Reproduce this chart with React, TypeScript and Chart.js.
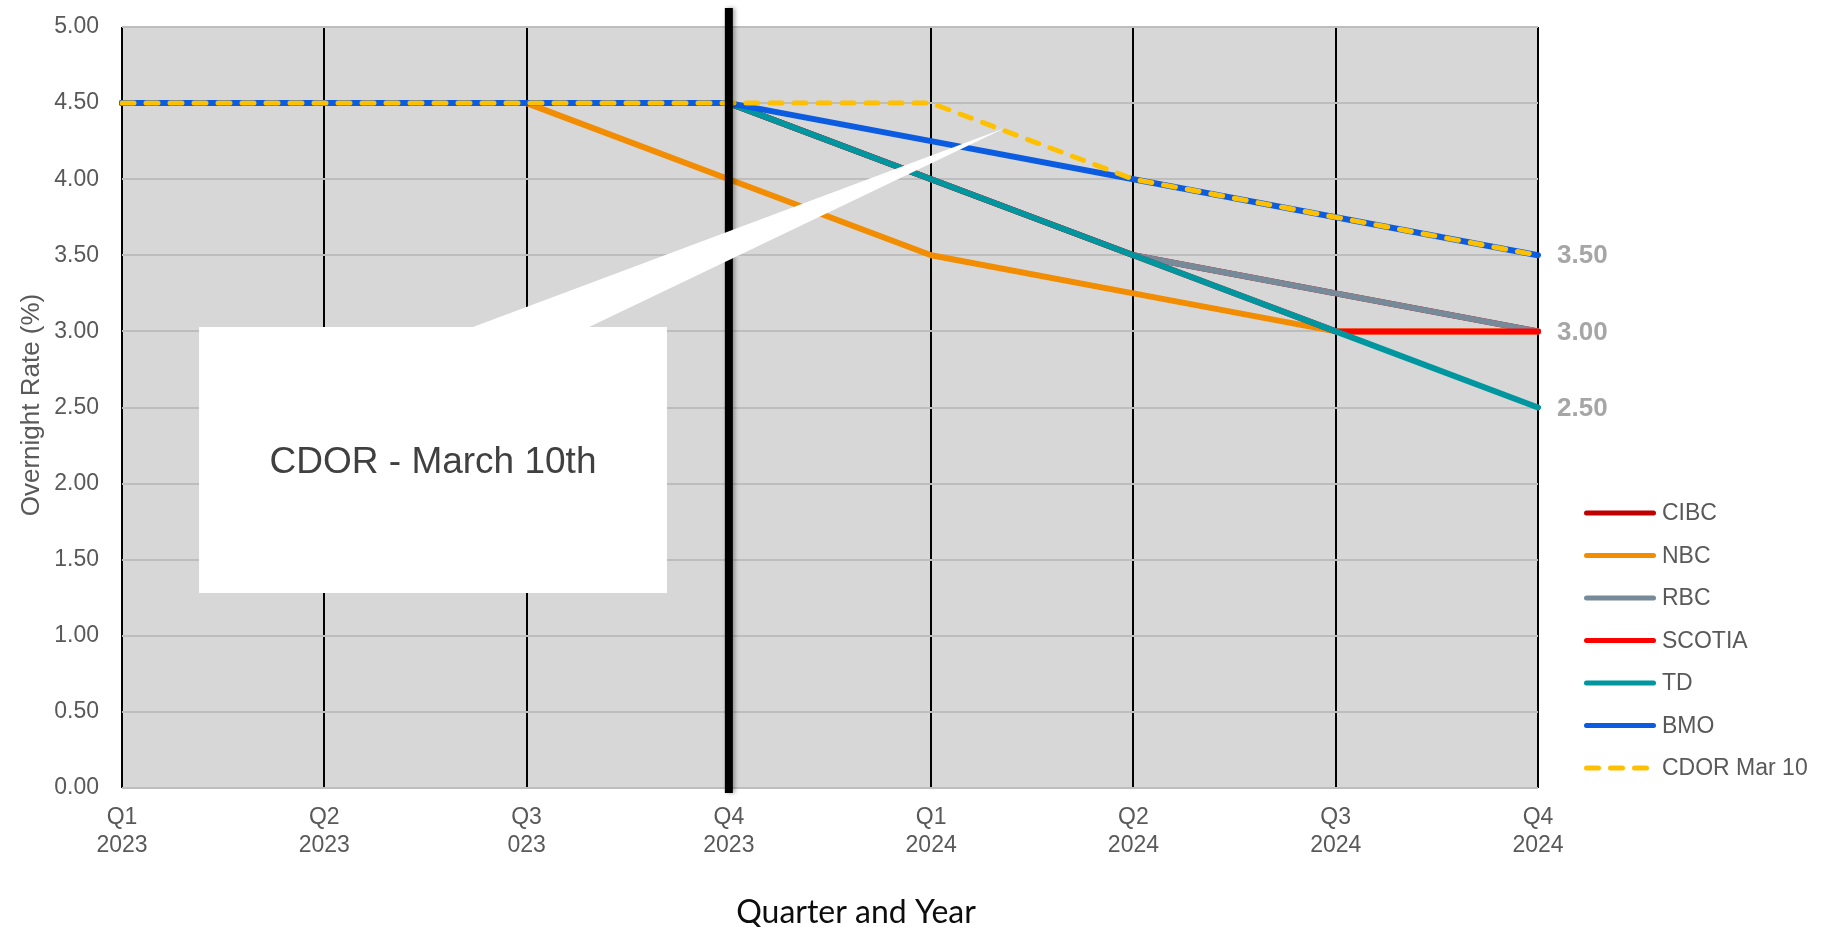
import { useEffect, useRef } from 'react';
import { Chart, registerables } from 'chart.js';

Chart.register(...registerables);

// Quarter labels (two lines each)
const quarters: string[][] = [
  ['Q1', '2023'],
  ['Q2', '2023'],
  ['Q3', '023'],
  ['Q4', '2023'],
  ['Q1', '2024'],
  ['Q2', '2024'],
  ['Q3', '2024'],
  ['Q4', '2024'],
];

// Overnight rate forecasts (%) by bank
const cibc = [4.5, 4.5, 4.5, 4.5, 4.0, 3.5, 3.25, 3.0];
const nbc = [4.5, 4.5, 4.5, 4.0, 3.5, 3.25, 3.0, 3.0];
const rbc = [4.5, 4.5, 4.5, 4.5, 4.0, 3.5, 3.25, 3.0];
const scotia = [4.5, 4.5, 4.5, 4.5, 4.0, 3.5, 3.0, 3.0];
const td = [4.5, 4.5, 4.5, 4.5, 4.0, 3.5, 3.0, 2.5];
const bmo = [4.5, 4.5, 4.5, 4.5, 4.25, 4.0, 3.75, 3.5];
const cdorMar10 = [4.5, 4.5, 4.5, 4.5, 4.5, 4.0, 3.75, 3.5];

const seriesNames = ['CIBC', 'NBC', 'RBC', 'SCOTIA', 'TD', 'BMO', 'CDOR Mar 10'];
const seriesValues = [cibc, nbc, rbc, scotia, td, bmo, cdorMar10];
const seriesColors = ['#C00000', '#F28C00', '#778A99', '#FF0000', '#00969F', '#0B5CE1', '#FFC000'];
const dashedSeries = ['CDOR Mar 10'];

// Series whose final value is printed to the right of the plot
const endLabelSeries = ['BMO', 'SCOTIA', 'TD'];

const yTickValues = [0, 0.5, 1, 1.5, 2, 2.5, 3, 3.5, 4, 4.5, 5];

// Marker for the current quarter and the callout note
const markerIndex = 3;
const calloutText = 'CDOR - March 10th';
const yTitle = 'Overnight Rate (%)';
const xTitle = 'Quarter and Year';

const FONT = '"Liberation Sans", Arial, Helvetica, sans-serif';
const TEXT_GREY = '#595959';

const decorPlugin = {
  id: 'decor',
  beforeDraw(chart: any) {
    const { ctx, chartArea: a } = chart;
    ctx.save();
    ctx.fillStyle = '#D7D7D7';
    ctx.fillRect(a.left, a.top, a.right - a.left, a.bottom - a.top);
    ctx.restore();
  },
  afterDatasetsDraw(chart: any) {
    const { ctx, chartArea: a, scales } = chart;
    const x = scales.x;
    const y = scales.y;

    // thick marker bar
    const bx = x.getPixelForValue(markerIndex);
    ctx.save();
    ctx.shadowColor = 'rgba(0,0,0,0.35)';
    ctx.shadowBlur = 4;
    ctx.shadowOffsetX = 2;
    ctx.fillStyle = '#000';
    ctx.fillRect(bx - 4, a.top - 19, 8, a.bottom - a.top + 24);
    ctx.restore();

    // callout box with pointer
    const bl = x.getPixelForValue(0.381);
    const br = x.getPixelForValue(2.694);
    const bt = y.getPixelForValue(3.029);
    const bb = y.getPixelForValue(1.281);
    const t1 = x.getPixelForValue(1.735);
    const t2 = x.getPixelForValue(2.309);
    const tipX = x.getPixelForValue(4.365);
    const tipY = y.getPixelForValue(4.336);
    ctx.save();
    ctx.fillStyle = '#FFFFFF';
    ctx.beginPath();
    ctx.moveTo(bl, bt);
    ctx.lineTo(t1, bt);
    ctx.lineTo(tipX, tipY);
    ctx.lineTo(t2, bt);
    ctx.lineTo(br, bt);
    ctx.lineTo(br, bb);
    ctx.lineTo(bl, bb);
    ctx.closePath();
    ctx.fill();
    ctx.fillStyle = '#404040';
    ctx.font = `37px ${FONT}`;
    ctx.textAlign = 'center';
    ctx.textBaseline = 'middle';
    ctx.fillText(calloutText, (bl + br) / 2, (bt + bb) / 2 + 3);
    ctx.restore();
  },
  afterDraw(chart: any) {
    const { ctx, chartArea: a, scales } = chart;
    const y = scales.y;
    const datasets = chart.data.datasets;

    // end-of-series value labels
    ctx.save();
    ctx.fillStyle = '#A6A6A6';
    ctx.font = `bold 26px ${FONT}`;
    ctx.textAlign = 'left';
    ctx.textBaseline = 'middle';
    endLabelSeries.forEach((name) => {
      const ds = datasets.find((d: any) => d.label === name);
      const v = ds.data[ds.data.length - 1];
      ctx.fillText(v.toFixed(2), a.right + 19, y.getPixelForValue(v) + 1);
    });
    ctx.restore();

    // legend
    ctx.save();
    const lx = a.right + 46;
    const rowTop = 513;
    const rowGap = 42.5;
    datasets.forEach((ds: any, i: number) => {
      const cy = rowTop + i * rowGap;
      ctx.strokeStyle = ds.borderColor;
      ctx.lineWidth = 5;
      ctx.lineCap = 'round';
      const dashed = dashedSeries.includes(ds.label);
      ctx.setLineDash(dashed ? [12, 12] : []);
      ctx.beginPath();
      ctx.moveTo(lx + 2.5, cy);
      ctx.lineTo(lx + (dashed ? 66 : 69.5), cy);
      ctx.stroke();
      ctx.setLineDash([]);
      ctx.fillStyle = TEXT_GREY;
      ctx.font = `23px ${FONT}`;
      ctx.textAlign = 'left';
      ctx.textBaseline = 'middle';
      ctx.fillText(ds.label, lx + 78, cy + 1);
    });
    ctx.restore();

    // axis titles
    ctx.save();
    ctx.fillStyle = TEXT_GREY;
    ctx.font = `26px ${FONT}`;
    ctx.textAlign = 'center';
    ctx.textBaseline = 'middle';
    ctx.translate(32, 405);
    ctx.rotate(-Math.PI / 2);
    ctx.fillText(yTitle, 0, 0);
    ctx.restore();

    ctx.save();
    ctx.fillStyle = '#0D0D0D';
    ctx.font = '32px Lato, "Open Sans", sans-serif';
    ctx.textAlign = 'center';
    ctx.textBaseline = 'alphabetic';
    ctx.fillText(xTitle, 856, 923);
    ctx.restore();
  },
};

export default function App() {
  const canvasRef = useRef<HTMLCanvasElement | null>(null);

  useEffect(() => {
    const canvas = canvasRef.current;
    if (!canvas) return;
    const n = seriesNames.length;
    const chart = new Chart(canvas, {
      type: 'line',
      data: {
        labels: quarters,
        datasets: seriesNames.map((name, i) => {
          const dashed = dashedSeries.includes(name);
          return {
            label: name,
            data: seriesValues[i],
            borderColor: seriesColors[i],
            backgroundColor: seriesColors[i],
            borderWidth: dashed ? 5 : 6,
            borderDash: dashed ? [12, 12] : [],
            borderCapStyle: 'round',
            borderJoinStyle: 'round',
            pointRadius: 0,
            pointHoverRadius: 0,
            tension: 0,
            fill: false,
            order: n - 1 - i,
          };
        }),
      },
      options: {
        responsive: false,
        animation: false,
        devicePixelRatio: 1,
        layout: { padding: { left: 0, right: 296, top: 27, bottom: 0 } },
        plugins: {
          legend: { display: false },
          tooltip: { enabled: false },
        },
        events: [],
        scales: {
          x: {
            type: 'category',
            offset: false,
            border: { display: false },
            grid: { color: '#000000', lineWidth: 2, drawTicks: false, offset: false },
            ticks: {
              color: TEXT_GREY,
              font: { family: FONT, size: 23, lineHeight: '28px' },
              padding: 16,
              maxRotation: 0,
              autoSkip: false,
            },
            afterFit: (s: any) => {
              s.height = 139;
            },
          },
          y: {
            min: 0,
            max: 5,
            border: { display: false },
            grid: { color: '#BDBDBD', lineWidth: 2, drawTicks: false },
            ticks: {
              color: TEXT_GREY,
              font: { family: FONT, size: 23 },
              padding: 23,
              callback: (v: any) => Number(v).toFixed(2),
            },
            afterBuildTicks: (s: any) => {
              s.ticks = yTickValues.map((v) => ({ value: v }));
            },
            afterFit: (s: any) => {
              s.width = 122;
              // the plot edges are fixed by the layout padding alone
              s.paddingTop = 0;
              s.paddingBottom = 0;
            },
          },
        },
      },
      plugins: [decorPlugin],
    } as any);
    return () => chart.destroy();
  }, []);

  return (
    <div style={{ position: 'fixed', left: 0, top: 0, width: 1834, height: 927, background: '#FFFFFF' }}>
      <canvas ref={canvasRef} width={1834} height={927} style={{ display: 'block' }} />
    </div>
  );
}
